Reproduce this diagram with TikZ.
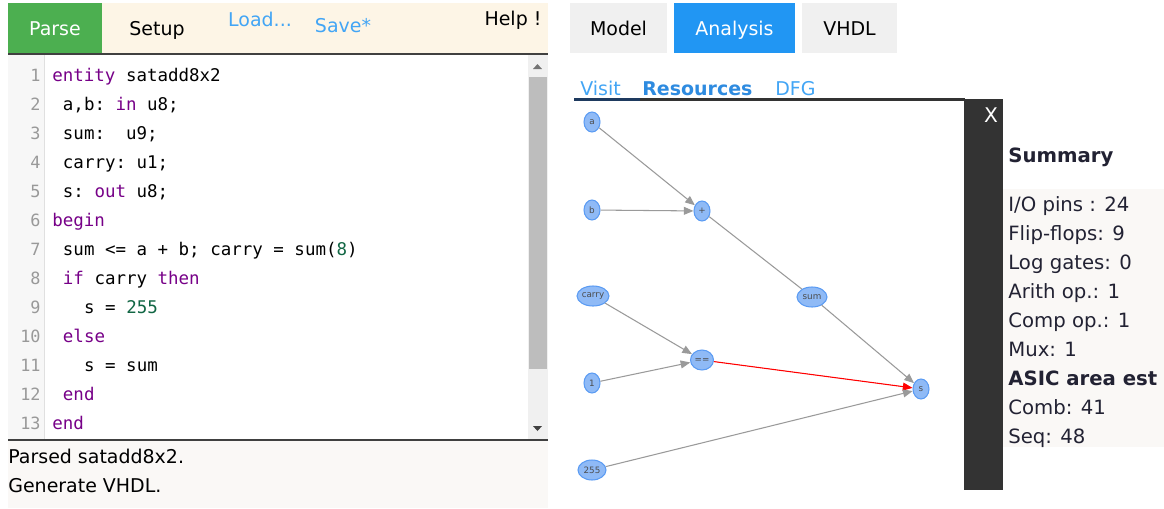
\documentclass[tikz,border=0pt]{standalone}
\usepackage{fontspec}
\setmainfont{DejaVu Sans}
\setmonofont{DejaVu Sans Mono}
\usepackage{tikz}
\usetikzlibrary{positioning}
\usetikzlibrary{shapes}
\usetikzlibrary{arrows.meta}

\definecolor{parsegreen}{HTML}{4CAF50}
\definecolor{barcream}{HTML}{FDF5E6}
\definecolor{linkblue}{HTML}{42A5F5}
\definecolor{resblue}{HTML}{2E8BE0}
\definecolor{tabblue}{HTML}{2196F3}
\definecolor{tabgray}{HTML}{F0F0F0}
\definecolor{gutterbg}{HTML}{F7F7F7}
\definecolor{kwpurple}{HTML}{770088}
\definecolor{numgreen}{HTML}{116644}
\definecolor{lnumgray}{HTML}{999999}
\definecolor{statusbg}{HTML}{FAF8F6}
\definecolor{sidedark}{HTML}{333333}
\definecolor{summtext}{HTML}{222233}
\definecolor{nodefill}{HTML}{8FBAF6}
\definecolor{nodeedge}{HTML}{5A9BF3}
\definecolor{edgegray}{HTML}{9A9A9A}
\definecolor{tabline}{HTML}{1E3A5F}

\newcommand{\kw}[1]{\textcolor{kwpurple}{#1}}
\newcommand{\nm}[1]{\textcolor{numgreen}{#1}}

\begin{document}
\begin{tikzpicture}[x=0.02cm,y=-0.02cm,
  ui/.style={font=\fontsize{10.8}{13}\selectfont, inner sep=0pt, anchor=base},
  code/.style={font=\ttfamily\fontsize{9.95}{12}\selectfont, inner sep=0pt, anchor=base west},
  lnum/.style={font=\ttfamily\fontsize{9.6}{12}\selectfont, inner sep=0pt, anchor=base east, text=lnumgray},
  summ/.style={font=\fontsize{11.2}{13}\selectfont, inner sep=0pt, anchor=base west, text=summtext},
  dfg/.style={ellipse, draw=nodeedge, fill=nodefill, line width=0.6pt, inner sep=0pt,
    minimum width=0.32cm, minimum height=0.4cm, font=\fontsize{5}{6}\selectfont, text=black!70},
  flow/.style={draw=edgegray, line width=0.6pt, -{Triangle[length=5.5pt,width=4.5pt]}}
]
\useasboundingbox (0,0) rectangle (1164,508);
\fill[white] (0,0) rectangle (1164,508);

% menu bar
\fill[barcream] (8,3) rectangle (548,53);
\fill[parsegreen] (8,3) rectangle (102,53);
\draw[line width=1.2pt, black!75] (8,54) -- (548,54);
\node[ui, text=white] (parse) at (55,35) {Parse};
\node[ui] (setup) at (157,35) {Setup};
\node[ui, text=linkblue] (load) at (260,26) {Load...};
\node[ui, text=linkblue] (save) at (343,32) {Save*};
\node[ui] (help) at (513,25) {Help !};

% editor
\fill[gutterbg] (8,55) rectangle (44,440);
\draw[black!12] (44,55) -- (44,440);
\fill[black!6] (528,55) rectangle (548,440);
\fill[black!26] (529,77) rectangle (547,369);
\fill[black!55] (533,69) -- (542,69) -- (537.5,64) -- cycle;
\fill[black!75] (533,426) -- (542,426) -- (537.5,431) -- cycle;
\foreach \i in {1,...,13}
  \node[lnum] at (41,{81+29*(\i-1)}) {\i};
\foreach \i/\ind/\txt in {
  1/0/{\kw{entity} satadd8x2},
  2/1/{a,b: \kw{in} u8;},
  3/1/{sum:~~u9;},
  4/1/{carry: u1;},
  5/1/{s: \kw{out} u8;},
  6/0/{\kw{begin}},
  7/1/{sum <= a + b; carry = sum(\nm{8})},
  8/1/{\kw{if} carry \kw{then}},
  9/3/{s = \nm{255}},
  10/1/{\kw{else}},
  11/3/{s = sum},
  12/1/{\kw{end}},
  13/0/{\kw{end}}}
  \node[code] at ({52+10.6*\ind},{81+29*(\i-1)}) {\txt};

% status
\draw[line width=1.2pt, black!75] (8,440) -- (548,440);
\fill[statusbg] (8,441) rectangle (548,508);
\node[ui, anchor=base west] (parsed) at (8,463) {Parsed satadd8x2.};
\node[ui, anchor=base west] (gen) at (8,492) {Generate VHDL.};

% view tabs
\fill[tabgray] (570,3) rectangle (667,53);
\fill[tabblue] (674,3) rectangle (795,53);
\fill[tabgray] (802,3) rectangle (897,53);
\node[ui] (model) at (618.5,35) {Model};
\node[ui, text=white] (analysis) at (734.5,35) {Analysis};
\node[ui] (vhdl) at (849.5,35) {VHDL};

\node[ui, anchor=base west, text=linkblue] (visit) at (580,95) {Visit};
\node[ui, anchor=base west, text=resblue, font=\bfseries\fontsize{10.8}{13}\selectfont] (res) at (642,95) {Resources};
\node[ui, anchor=base west, text=linkblue] (dfgtab) at (775,95) {DFG};
\draw[line width=1.5pt, black!80] (574,99.5) -- (965,99.5);
\draw[line width=1.5pt, tabline] (574,99.5) -- (640,99.5);

% data flow graph
\node[dfg] (a) at (592,122) {a};
\node[dfg] (b) at (592,210) {b};
\node[dfg] (plus) at (702,211) {+};
\node[dfg, minimum width=0.64cm] (carry) at (593,296) {carry};
\node[dfg, minimum width=0.6cm] (sum) at (812,297) {sum};
\node[dfg, minimum width=0.46cm] (eq) at (702,360) {==};
\node[dfg] (one) at (592,383) {1};
\node[dfg] (s) at (921,389) {s};
\node[dfg, minimum width=0.56cm] (c255) at (592,470) {255};

\draw[flow] (a) -- (plus);
\draw[flow] (b) -- (plus);
\draw[draw=edgegray, line width=0.6pt] (plus) -- (sum);
\draw[flow] (carry) -- (eq);
\draw[flow] (one) -- (eq);
\draw[flow] (sum) -- (s);
\draw[flow, draw=red, fill=red] (eq) -- (s);
\draw[flow] (c255) -- (s);

% side panel
\fill[sidedark] (964,99) rectangle (1003,490);
\node[font=\fontsize{11.5}{13}\selectfont, text=white, inner sep=0pt] (close) at (991,115) {X};
\fill[statusbg] (1003,189) rectangle (1164,447);
\node[summ, font=\bfseries\fontsize{11.2}{13}\selectfont] (summary) at (1008,162) {Summary};
\foreach \i/\txt in {0/{I/O pins : 24}, 1/{Flip-flops: 9}, 2/{Log gates: 0},
    3/{Arith op.: 1}, 4/{Comp op.: 1}, 5/{Mux: 1}, 7/{Comb: 41}, 8/{Seq: 48}}
  \node[summ] at (1008,{211+29*\i}) {\txt};
\node[summ, font=\bfseries\fontsize{11.2}{13}\selectfont] (asic) at (1008,385) {ASIC area est};
\end{tikzpicture}
\end{document}
